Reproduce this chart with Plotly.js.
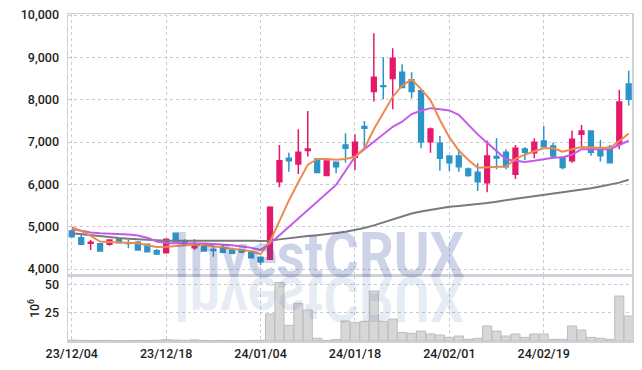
<!DOCTYPE html>
<html><head><meta charset="utf-8">
<script src="https://cdn.plot.ly/plotly-3.0.1.min.js"></script>
<style>html,body{margin:0;padding:0;background:#fff}#chart{width:642px;height:370px}</style>
</head><body><div id="chart"></div>
<script>
const dates = ["23/12/04","23/12/05","23/12/06","23/12/07","23/12/08","23/12/11","23/12/12","23/12/13","23/12/14","23/12/15",
"23/12/18","23/12/19","23/12/20","23/12/21","23/12/22","23/12/26","23/12/27","23/12/28","24/01/02","24/01/03",
"24/01/04","24/01/05","24/01/08","24/01/09","24/01/10","24/01/11","24/01/12","24/01/15","24/01/16","24/01/17",
"24/01/18","24/01/19","24/01/22","24/01/23","24/01/24","24/01/25","24/01/26","24/01/29","24/01/30","24/01/31",
"24/02/01","24/02/02","24/02/05","24/02/06","24/02/07","24/02/08","24/02/13","24/02/14","24/02/15","24/02/16",
"24/02/19","24/02/20","24/02/21","24/02/22","24/02/23","24/02/26","24/02/27","24/02/28","24/02/29","24/03/04"];
const openP = [4898,4740,4610,4598,4584,4702,4615,4631,4584,4433,
4385,4844,4662,4500,4567,4460,4489,4449,4420,4400,
4277,4229,6064,6617,6482,6797,6600,6206,6522,6931,
6640,7364,8191,8330,8499,8650,8468,8208,7009,6972,
6671,6671,6364,6286,6040,6660,6759,6239,6837,6749,
7026,6908,6641,6560,7184,7262,6797,6877,6955,8373];
const highP = [4930,4844,4686,4610,4700,4710,4686,4660,4600,4473,
4710,4850,4702,4702,4580,4513,4584,4500,4470,4420,
4290,5480,6931,6749,7303,7735,6620,6570,6530,7208,
7180,7499,9572,9005,9217,8839,8650,8220,7340,7144,
6680,6830,6400,6499,7033,7090,6830,6931,6877,7090,
7380,6986,6650,7270,7404,7270,7050,6931,8232,8681];
const lowP = [4745,4570,4449,4410,4551,4610,4489,4440,4395,4331,
4380,4640,4560,4449,4420,4291,4371,4350,4370,4250,
4095,4210,5931,6300,6246,6655,6260,6190,6262,6513,
6340,6853,7955,8012,7775,8270,8035,6853,6749,6324,
6317,6300,6180,5844,5813,6357,6357,6128,6577,6617,
6880,6617,6357,6513,6908,6678,6537,6500,6830,7861];
const closeP = [4764,4584,4630,4425,4686,4622,4600,4449,4409,4355,
4702,4645,4567,4567,4425,4440,4395,4371,4400,4265,
4173,5459,6560,6560,6759,6837,6277,6553,6418,6853,
6995,7326,8532,8310,8981,8286,8191,7009,7310,6617,
6513,6418,6206,6064,6671,6620,6418,6853,6759,6995,
6891,6671,6395,7066,7262,6759,6678,6513,7948,8012];
const ma5 = [4986,4900,4780,4650,4640,4630,4625,4610,4560,4520,
4525,4545,4560,4575,4565,4540,4510,4480,4450,4420,
4350,4645,5150,5620,6050,6460,6600,6600,6580,6600,
6650,6850,7300,7700,8070,8330,8480,8250,7990,7520,
7110,6800,6580,6390,6400,6410,6420,6600,6700,6780,
6850,6850,6770,6830,6880,6870,6860,6860,7020,7200];
const ma10 = [4946,4900,4860,4844,4840,4830,4815,4790,4740,4650,
4615,4610,4610,4610,4600,4590,4580,4560,4530,4500,
4450,4607,4795,4990,5190,5395,5590,5780,5986,6320,
6650,6830,7010,7190,7360,7480,7660,7740,7800,7775,
7745,7640,7400,7180,6980,6780,6590,6560,6530,6560,
6600,6630,6640,6700,6830,6830,6830,6830,6930,7030];
const ma60 = [4844,4820,4790,4770,4750,4730,4715,4700,4690,4680,
4670,4665,4665,4665,4670,4675,4680,4680,4680,4670,
4660,4665,4700,4730,4760,4780,4800,4820,4850,4880,
4920,4970,5030,5100,5180,5250,5310,5360,5400,5440,
5470,5490,5510,5540,5560,5590,5630,5660,5690,5720,
5750,5780,5810,5840,5870,5910,5950,5990,6040,6110];
const volume = [0.8,0.6,0.4,0.5,0.5,0.3,0.4,0.5,0.4,0.6,
1.2,0.8,0.6,1.0,0.5,0.4,0.5,0.4,0.3,0.5,
0.6,23.9,51.8,13.9,33.3,27.4,2.4,0.5,1.3,17.7,
16.5,17.4,44.2,17.4,19.4,7.6,6.8,8.8,6.2,5.3,
3.2,4.4,1.5,2.4,13.3,8.8,4.4,6.2,3.2,6.2,
6.2,1.5,1.5,13.3,9.7,3.2,2.4,1.5,39.8,22.1];
const priceTicks = [4000,5000,6000,7000,8000,9000,10000];
const volTicks = [25,50];
const xTickIdx = [0,10,20,30,40,50];

const RED = '#e5196b', BLUE = '#2b94c8';
const GRID = '#c9cbdb', LINE = '#cfd0d8';
const FONT = {family:'Roboto, sans-serif', size:12.5, color:'#1e1e1e', weight:500};

const traces = [
 {type:'candlestick', x:dates, open:openP, high:highP, low:lowP, close:closeP, xaxis:'x', yaxis:'y',
  increasing:{line:{color:RED,width:1.5},fillcolor:RED},
  decreasing:{line:{color:BLUE,width:1.5},fillcolor:BLUE}, whiskerwidth:0, hoverinfo:'skip'},
 {type:'scatter', mode:'lines', x:dates, y:ma60, line:{color:'#7a7a7a',width:2}, xaxis:'x', yaxis:'y', hoverinfo:'skip'},
 {type:'scatter', mode:'lines', x:dates, y:ma10, line:{color:'#c65ae8',width:2}, xaxis:'x', yaxis:'y', hoverinfo:'skip'},
 {type:'scatter', mode:'lines', x:dates, y:ma5, line:{color:'#ef8a4f',width:2}, xaxis:'x', yaxis:'y', hoverinfo:'skip'},
 {type:'bar', x:dates, y:volume, xaxis:'x2', yaxis:'y2', marker:{color:'#d7d7d7', line:{color:'#bdbdbd',width:1}}, hoverinfo:'skip'}
];

const xt = xTickIdx.map(i=>dates[i]);
const layout = {
 width:642, height:370, showlegend:false,
 margin:{l:68,r:10,t:14,b:29},
 paper_bgcolor:'#fff', plot_bgcolor:'#fff',
 font:FONT, bargap:0.04, boxgap:0.28,
 xaxis:{type:'category', range:[-0.4,59.35], anchor:'y', matches:'x2', rangeslider:{visible:false},
   tickvals:xt, showticklabels:false, showgrid:true, gridcolor:GRID, griddash:'dot', gridwidth:1,
   showline:true, linecolor:LINE, linewidth:1.5, mirror:true, ticks:'', zeroline:false, fixedrange:true},
 xaxis2:{type:'category', range:[-0.4,59.35], anchor:'y2',
   tickvals:xt, ticktext:xt, showgrid:true, gridcolor:GRID, griddash:'dot',
   showline:true, linecolor:LINE, linewidth:1.5, mirror:true, ticks:'', tickfont:FONT, zeroline:false},
 yaxis:{domain:[0.1988,1], range:[3835,10024], tickvals:priceTicks, tickformat:',', showgrid:true, gridcolor:GRID, griddash:'dot',
   showline:true, linecolor:LINE, linewidth:1.5, mirror:true, ticks:'outside', ticklen:5, tickcolor:'rgba(0,0,0,0)', tickfont:FONT, zeroline:false},
 yaxis2:{domain:[0,0.1988], range:[0,57.5], tickvals:volTicks, showgrid:true, gridcolor:GRID, griddash:'dot',
   showline:true, linecolor:LINE, linewidth:1.5, mirror:true, ticks:'outside', ticklen:5, tickcolor:'rgba(0,0,0,0)', tickfont:FONT, zeroline:false,
   title:{text:'10<sup>6</sup>', font:FONT, standoff:2}},
 annotations:[
  {xref:'paper', yref:'paper', x:0.4445, y:0.14, xanchor:'center', yanchor:'bottom', showarrow:false,
   text:'<b>InvestCRUX</b>', font:{family:'Roboto, sans-serif', size:63, color:'rgba(70,95,165,0.27)'}},
  {xref:'paper', yref:'paper', x:0.4445, y:0.14, xanchor:'center', yanchor:'bottom', showarrow:false,
   text:'<b>InvestCRUX</b>', font:{family:'Roboto, sans-serif', size:63, color:'rgba(70,95,165,0.12)'}}
 ]
};
Plotly.newPlot('chart', traces, layout, {staticPlot:true, displayModeBar:false}).then(function(){
  const anns = document.querySelectorAll('.annotation');
  if (anns.length < 2) return;
  const txt = anns[0].querySelector('text');
  const r = txt.getBoundingClientRect();
  const svgR = document.querySelector('#chart .main-svg').getBoundingClientRect();
  const top = r.top - svgR.top;
  const baseline = top + r.height * 0.79;
  const BASE = 277, CX = 319, SX = 0.865;
  const dy = BASE - baseline;
  anns[0].setAttribute('transform', 'translate(' + CX + ',' + dy + ') scale(' + SX + ',1) translate(' + (-CX) + ',0)');
  anns[1].setAttribute('transform', 'translate(' + CX + ',' + (2*BASE - dy) + ') scale(' + SX + ',-1) translate(' + (-CX) + ',0)');
});
</script></body></html>
